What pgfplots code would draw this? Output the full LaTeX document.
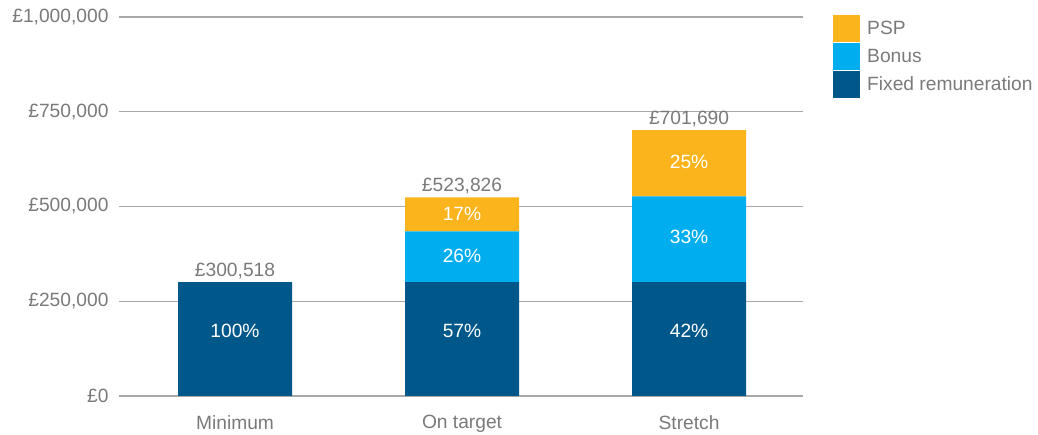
\documentclass[border=0pt]{standalone}
\usepackage{pgfplots}
\pgfplotsset{compat=1.18}
\usepackage{fontspec}
\setmainfont{Liberation Sans}
\definecolor{psp}{HTML}{FBB41B}
\definecolor{bonus}{HTML}{00AEEF}
\definecolor{fixed}{HTML}{00578A}
\definecolor{txt}{HTML}{7A7A7A}
\definecolor{gridc}{HTML}{A8A8A8}
\begin{document}
\begin{tikzpicture}[font=\fontsize{19.2}{22}\selectfont]
\useasboundingbox (-119pt,-39pt) rectangle (919pt,396pt);
\begin{axis}[
  at={(0pt,0pt)}, anchor=south west,
  scale only axis, width=684pt, height=379pt,
  ybar stacked, bar width=114pt,
  xmin=-0.511, xmax=2.502, ymin=0, ymax=1000000,
  xtick={0,1,2}, xticklabels={Minimum,On target,Stretch},
  ytick={0,250000,500000,750000,1000000},
  yticklabels={£0,{£250,000},{£500,000},{£750,000},{£1,000,000}},
  scaled y ticks=false,
  ymajorgrids, grid style={gridc, line width=1.2pt},
  axis line style={draw=none}, major tick length=0pt,
  tick label style={text=txt},
  yticklabel style={xshift=-7pt},
  xticklabel style={yshift=-16pt},
  reverse legend,
  legend style={at={(rel axis cs:1,1)}, anchor=north west, xshift=30pt, yshift=2pt,
    draw=none, fill=none, inner sep=0pt, row sep=1pt, column sep=7pt,
    text=txt, cells={anchor=west}, nodes={inner sep=0pt}},
  legend image code/.code={\fill[#1] (0pt,-13.5pt) rectangle (27pt,13.5pt);},
]
\addplot[fill=fixed, draw=none] coordinates {(0,300518) (1,300518) (2,300518)};
\addplot[fill=bonus, draw=none] coordinates {(0,0) (1,134000) (2,226000)};
\addplot[fill=psp, draw=none] coordinates {(0,0) (1,89308) (2,175172)};
\legend{Fixed remuneration, Bonus, PSP}
\end{axis}
\begin{axis}[
  at={(0pt,0pt)}, anchor=south west,
  scale only axis, width=684pt, height=379pt,
  xmin=-0.511, xmax=2.502, ymin=0, ymax=1000000,
  hide axis, clip=false,
]
\addplot[only marks, mark=none,
  nodes near coords, point meta=explicit symbolic,
  nodes near coords style={text=white, anchor=center, inner sep=0pt}]
  coordinates {(0,171500) [100\%] (1,171500) [57\%] (2,171500) [42\%]
               (1,369400) [26\%] (1,480200) [17\%]
               (2,419500) [33\%] (2,617400) [25\%]};
\addplot[only marks, mark=none,
  nodes near coords, point meta=explicit symbolic,
  nodes near coords style={text=txt, anchor=south, inner sep=0pt, yshift=3pt}]
  coordinates {(0,300518) [{£300,518}] (1,523826) [{£523,826}] (2,701690) [{£701,690}]};
\end{axis}
\end{tikzpicture}
\end{document}
